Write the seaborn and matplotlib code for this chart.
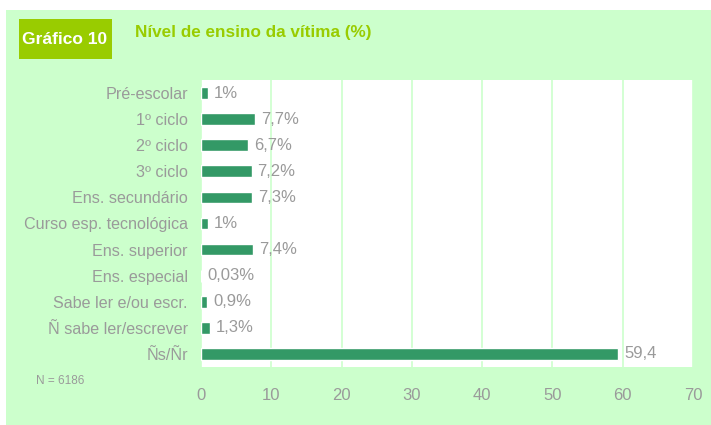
import matplotlib
matplotlib.use("Agg")
import matplotlib.pyplot as plt
import seaborn as sns
import pandas as pd
from matplotlib.patches import Rectangle

categories = ["Pré-escolar", "1º ciclo", "2º ciclo", "3º ciclo", "Ens. secundário",
              "Curso esp. tecnológica", "Ens. superior", "Ens. especial",
              "Sabe ler e/ou escr.", "Ñ sabe ler/escrever", "Ñs/Ñr"]
values = [1, 7.7, 6.7, 7.2, 7.3, 1, 7.4, 0.03, 0.9, 1.3, 59.4]
value_labels = ["1%", "7,7%", "6,7%", "7,2%", "7,3%", "1%", "7,4%", "0,03%", "0,9%", "1,3%", "59,4"]
xticks = [0, 10, 20, 30, 40, 50, 60, 70]

sns.set_theme(style="white")
plt.rcParams["font.family"] = ["Liberation Sans", "DejaVu Sans"]

GRAY = "#9a9a9a"
BAR = "#339966"
BG = "#ccffcc"
LIME = "#99cc00"

fig = plt.figure(figsize=(7.11, 4.25), dpi=100)
fig.patch.set_facecolor("white")
fig.patches.append(Rectangle((6 / 711, 0), 1, (425 - 10) / 425, transform=fig.transFigure,
                             facecolor=BG, edgecolor="none", zorder=-10))
fig.patches.append(Rectangle((19 / 711, 1 - 59 / 425), 93 / 711, 40 / 425, transform=fig.transFigure,
                             facecolor=LIME, edgecolor="none", zorder=-5))
fig.text(64.5 / 711, 1 - 39 / 425, "Gráfico 10", color="white", fontsize=12.5, fontweight="bold",
         ha="center", va="center")
fig.text(135 / 711, 1 - 33 / 425, "Nível de ensino da vítima (%)", color=LIME, fontsize=12.3,
         fontweight="bold", ha="left", va="center")
fig.text(36 / 711, 1 - 381 / 425, "N = 6186", color=GRAY, fontsize=8.5, ha="left", va="center")

ax = fig.add_axes([201 / 711, 1 - 367 / 425, (693 - 201) / 711, (367 - 80) / 425])
df = pd.DataFrame({"cat": categories, "val": values})
sns.barplot(data=df, y="cat", x="val", orient="h", color=BAR, saturation=1, width=0.45, ax=ax)
ax.set_facecolor("white")
ax.set_xlim(0, 70)
ax.set_ylim(10.5, -0.5)
ax.set_xticks(xticks)
ax.set_xticklabels([str(t) for t in xticks])
ax.set_xlabel("")
ax.set_ylabel("")
for s in ax.spines.values():
    s.set_visible(False)
ax.grid(axis="x", color=BG, linewidth=1.2)
ax.set_axisbelow(True)
ax.tick_params(axis="x", colors=GRAY, labelsize=12, length=0, pad=15)
ax.tick_params(axis="y", colors=GRAY, labelsize=11.6, length=0, pad=9.5)
ax.bar_label(ax.containers[0], labels=value_labels, padding=4.3, color=GRAY, fontsize=12)

fig.savefig("out.png", dpi=100)
